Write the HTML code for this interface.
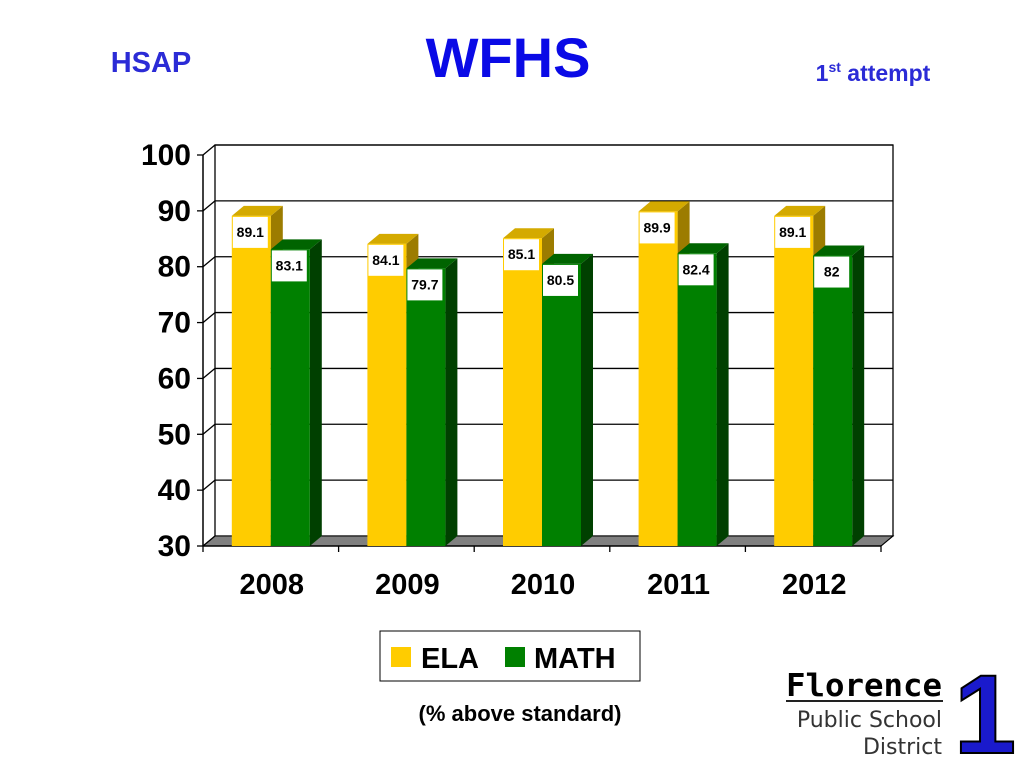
<!DOCTYPE html>
<html><head><meta charset="utf-8"><style>
body{margin:0;background:#fff;}
svg{display:block;font-family:"Liberation Sans",sans-serif;}
</style></head><body>
<svg id="c" width="1024" height="768" viewBox="0 0 1024 768">
<text x="151" y="72" font-size="29" font-weight="bold" fill="#2b2bd6" text-anchor="middle">HSAP</text>
<text x="508" y="77" font-size="56" font-weight="bold" fill="#0a0ae6" text-anchor="middle">WFHS</text>
<text x="873" y="81" font-size="23" font-weight="bold" fill="#2b2bd6" text-anchor="middle">1<tspan font-size="14" dy="-9">st</tspan><tspan dy="9"> attempt</tspan></text>
<g id="plot"></g>
<g>
<rect x="380" y="631" width="260" height="50" fill="#fff" stroke="#000" stroke-width="1"/>
<rect x="391" y="647" width="20" height="20" fill="#ffcc00"/>
<text x="421" y="668" font-size="29" font-weight="bold">ELA</text>
<rect x="505" y="647" width="20" height="20" fill="#008000"/>
<text x="534" y="668" font-size="29" font-weight="bold">MATH</text>
</g>
<text x="520" y="721" font-size="22" font-weight="bold" text-anchor="middle">(% above standard)</text>
<g>
<text x="786" y="696" font-size="31" font-weight="bold" font-family="DejaVu Sans Mono, Liberation Mono, monospace" textLength="156" lengthAdjust="spacingAndGlyphs">Florence</text>
<rect x="786" y="700" width="157" height="2" fill="#222"/>
<text x="942" y="727" font-size="22" font-family="DejaVu Sans, sans-serif" fill="#333" text-anchor="end">Public School</text>
<text x="942" y="754" font-size="22" font-family="DejaVu Sans, sans-serif" fill="#333" text-anchor="end">District</text>
<text x="985" y="753" font-size="112" font-weight="bold" fill="#1a1acc" stroke="#000" stroke-width="2" text-anchor="middle" font-family="Liberation Sans, sans-serif">1</text>
</g>
</svg>
<script>
const categories=["2008","2009","2010","2011","2012"];
const elaValues=[89.1,84.1,85.1,89.9,89.1];
const mathValues=[83.1,79.7,80.5,82.4,82];
const elaLabels=["89.1","84.1","85.1","89.9","89.1"];
const mathLabels=["83.1","79.7","80.5","82.4","82"];
const yTicks=[30,40,50,60,70,80,90,100];
const NS="http://www.w3.org/2000/svg";
const g=document.getElementById('plot');
const DX=12,DY=-10,X0=203,X1=881,Ymin=30,Ymax=100,YB=546,YT=155;
const y=v=>YB-(v-Ymin)/(Ymax-Ymin)*(YB-YT);
const band=(X1-X0)/categories.length;
const xc=i=>X0+band*(i+0.5);
function el(t,a){const e=document.createElementNS(NS,t);for(const k in a)e.setAttribute(k,a[k]);g.appendChild(e);return e;}
let e;
e=el('rect',{x:X0+DX,y:YT+DY,width:X1-X0,height:YB-YT,fill:'#fff',stroke:'#000','stroke-width':1.3});


e=el('polygon',{points:`${X0},${YB} ${X0+DX},${YB+DY} ${X1+DX},${YB+DY} ${X1},${YB}`,fill:'#808080',stroke:'#000','stroke-width':1});


yTicks.forEach(v=>{
  const yy=y(v);
  if(v>Ymin){e=el('line',{x1:X0+DX,y1:yy+DY,x2:X1+DX,y2:yy+DY,stroke:'#000','stroke-width':1.3});
  
  }
  el('line',{x1:X0,y1:yy,x2:X0+DX,y2:yy+DY,stroke:'#000','stroke-width':1.3});
  el('line',{x1:X0-6,y1:yy,x2:X0,y2:yy,stroke:'#000','stroke-width':1.3});
  e=el('text',{x:X0-12,y:yy+10,'font-size':30,'font-weight':'bold','text-anchor':'end'});
  e.textContent=v;
  
  
});
el('line',{x1:X0,y1:YT,x2:X0,y2:YB,stroke:'#000','stroke-width':1.5});
el('line',{x1:X0,y1:YB,x2:X1,y2:YB,stroke:'#000','stroke-width':1.5});
for(let i=0;i<=categories.length;i++){const xx=X0+band*i;el('line',{x1:xx,y1:YB,x2:xx,y2:YB+6,stroke:'#000','stroke-width':1.3});}
el('line',{x1:X1,y1:YB,x2:X1+DX,y2:YB+DY,stroke:'#000','stroke-width':1});
function bar(x,w,v,front,top,side,lab,name){
  const yt=y(v);
  e=el('polygon',{points:`${x+w},${yt} ${x+w+DX},${yt+DY} ${x+w+DX},${YB+DY} ${x+w},${YB}`,fill:side});
  e=el('polygon',{points:`${x},${yt} ${x+DX},${yt+DY} ${x+w+DX},${yt+DY} ${x+w},${yt}`,fill:top});
  e=el('rect',{x:x,y:yt,width:w,height:YB-yt,fill:front});
  
  
  e=el('rect',{x:x+1,y:yt+1,width:w-4,height:31,fill:'#fff'});
  e=el('text',{x:x+1+(w-4)/2,y:yt+21,'font-size':14,'font-weight':'bold','text-anchor':'middle'});
  e.textContent=lab;
  
  
}
categories.forEach((c,i)=>{
  const cx=xc(i);
  bar(cx-39,39,elaValues[i],'#ffcc00','#d4aa00','#9c7c00',elaLabels[i],'bar-ela-'+c);
  bar(cx,39,mathValues[i],'#008000','#006400','#004000',mathLabels[i],'bar-math-'+c);
  e=el('text',{x:cx+1,y:594,'font-size':29,'font-weight':'bold','text-anchor':'middle'});
  e.textContent=c;
  
  
});
</script>
</body></html>
